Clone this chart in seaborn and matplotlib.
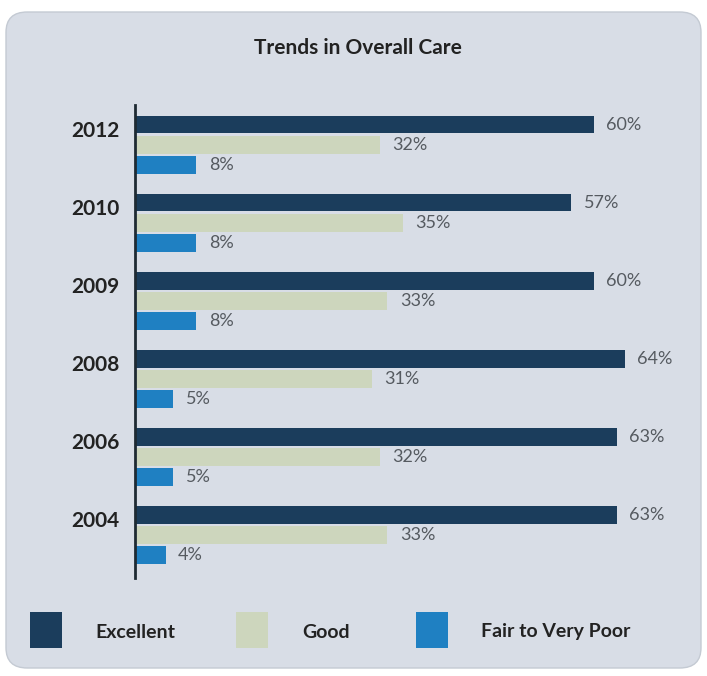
import matplotlib
matplotlib.use("Agg")
import matplotlib.pyplot as plt
from matplotlib.patches import FancyBboxPatch, Rectangle
import seaborn as sns
import pandas as pd

years = ["2012", "2010", "2009", "2008", "2006", "2004"]
excellent = [60, 57, 60, 64, 63, 63]
good = [32, 35, 33, 31, 32, 33]
fair = [8, 8, 8, 5, 5, 4]
series = ["Excellent", "Good", "Fair to Very Poor"]
colors = ["#1b3d5c", "#cdd6bd", "#1f80c2"]

rows = []
for i, y in enumerate(years):
    for s, vals in zip(series, [excellent, good, fair]):
        rows.append({"Year": y, "Rating": s, "Pct": vals[i]})
df = pd.DataFrame(rows)

sns.set_style("white")
plt.rcParams['font.family'] = ['Lato', 'DejaVu Sans']

W, H = 707, 676
fig = plt.figure(figsize=(W / 100, H / 100), dpi=100)
fig.patch.set_facecolor("white")

bg = "#d8dde6"
box = FancyBboxPatch((6 / W, 8 / H), (W - 12) / W, (H - 20) / H,
                     boxstyle="round,pad=0,rounding_size=0.03",
                     transform=fig.transFigure, facecolor=bg,
                     edgecolor="#c4cad3", linewidth=1.0, zorder=-5)
fig.patches.append(box)

ax = fig.add_axes([135 / W, 98 / H, (680 - 135) / W, (571 - 98) / H])
ax.set_facecolor("none")
ax.set_zorder(2)

sns.barplot(data=df, y="Year", x="Pct", hue="Rating", order=years,
            hue_order=series, palette=colors, orient="h", width=0.78,
            gap=0.12, ax=ax, legend=False, saturation=1, linewidth=0)

ax.set_xlim(0, (680 - 135) / 7.65)
ax.set_ylim(5.55, -0.51)

for container in ax.containers:
    labels = [f"{int(v)}%" for v in container.datavalues]
    ax.bar_label(container, labels=labels, padding=9, fontsize=13,
                 color="#555a60")

ax.set_yticks([i - 0.2 for i in range(len(years))])
ax.set_yticklabels(years, fontsize=15, fontweight="bold", color="#222222")
ax.tick_params(axis="y", length=0, pad=11)
ax.set_xticks([])
ax.set_xlabel("")
ax.set_ylabel("")
for sp in ["top", "right", "bottom"]:
    ax.spines[sp].set_visible(False)
ax.spines["left"].set_color("#1e2a33")
ax.spines["left"].set_linewidth(2)

fig.text(358 / W, 1 - 48 / H, "Trends in Overall Care", ha="center",
         va="center", fontsize=15, fontweight="bold", color="#222222")

leg = [(30, 95), (236, 302), (416, 481)]
for (sx, tx), s, c in zip(leg, series, colors):
    fig.patches.append(Rectangle((sx / W, 1 - 648 / H), 32 / W, 36 / H,
                                 transform=fig.transFigure, facecolor=c,
                                 edgecolor="none", zorder=2))
    fig.text(tx / W, 1 - 632 / H, s, ha="left", va="center", fontsize=14,
             fontweight="bold", color="#222222")

fig.savefig("out.png", dpi=100, facecolor="white")
